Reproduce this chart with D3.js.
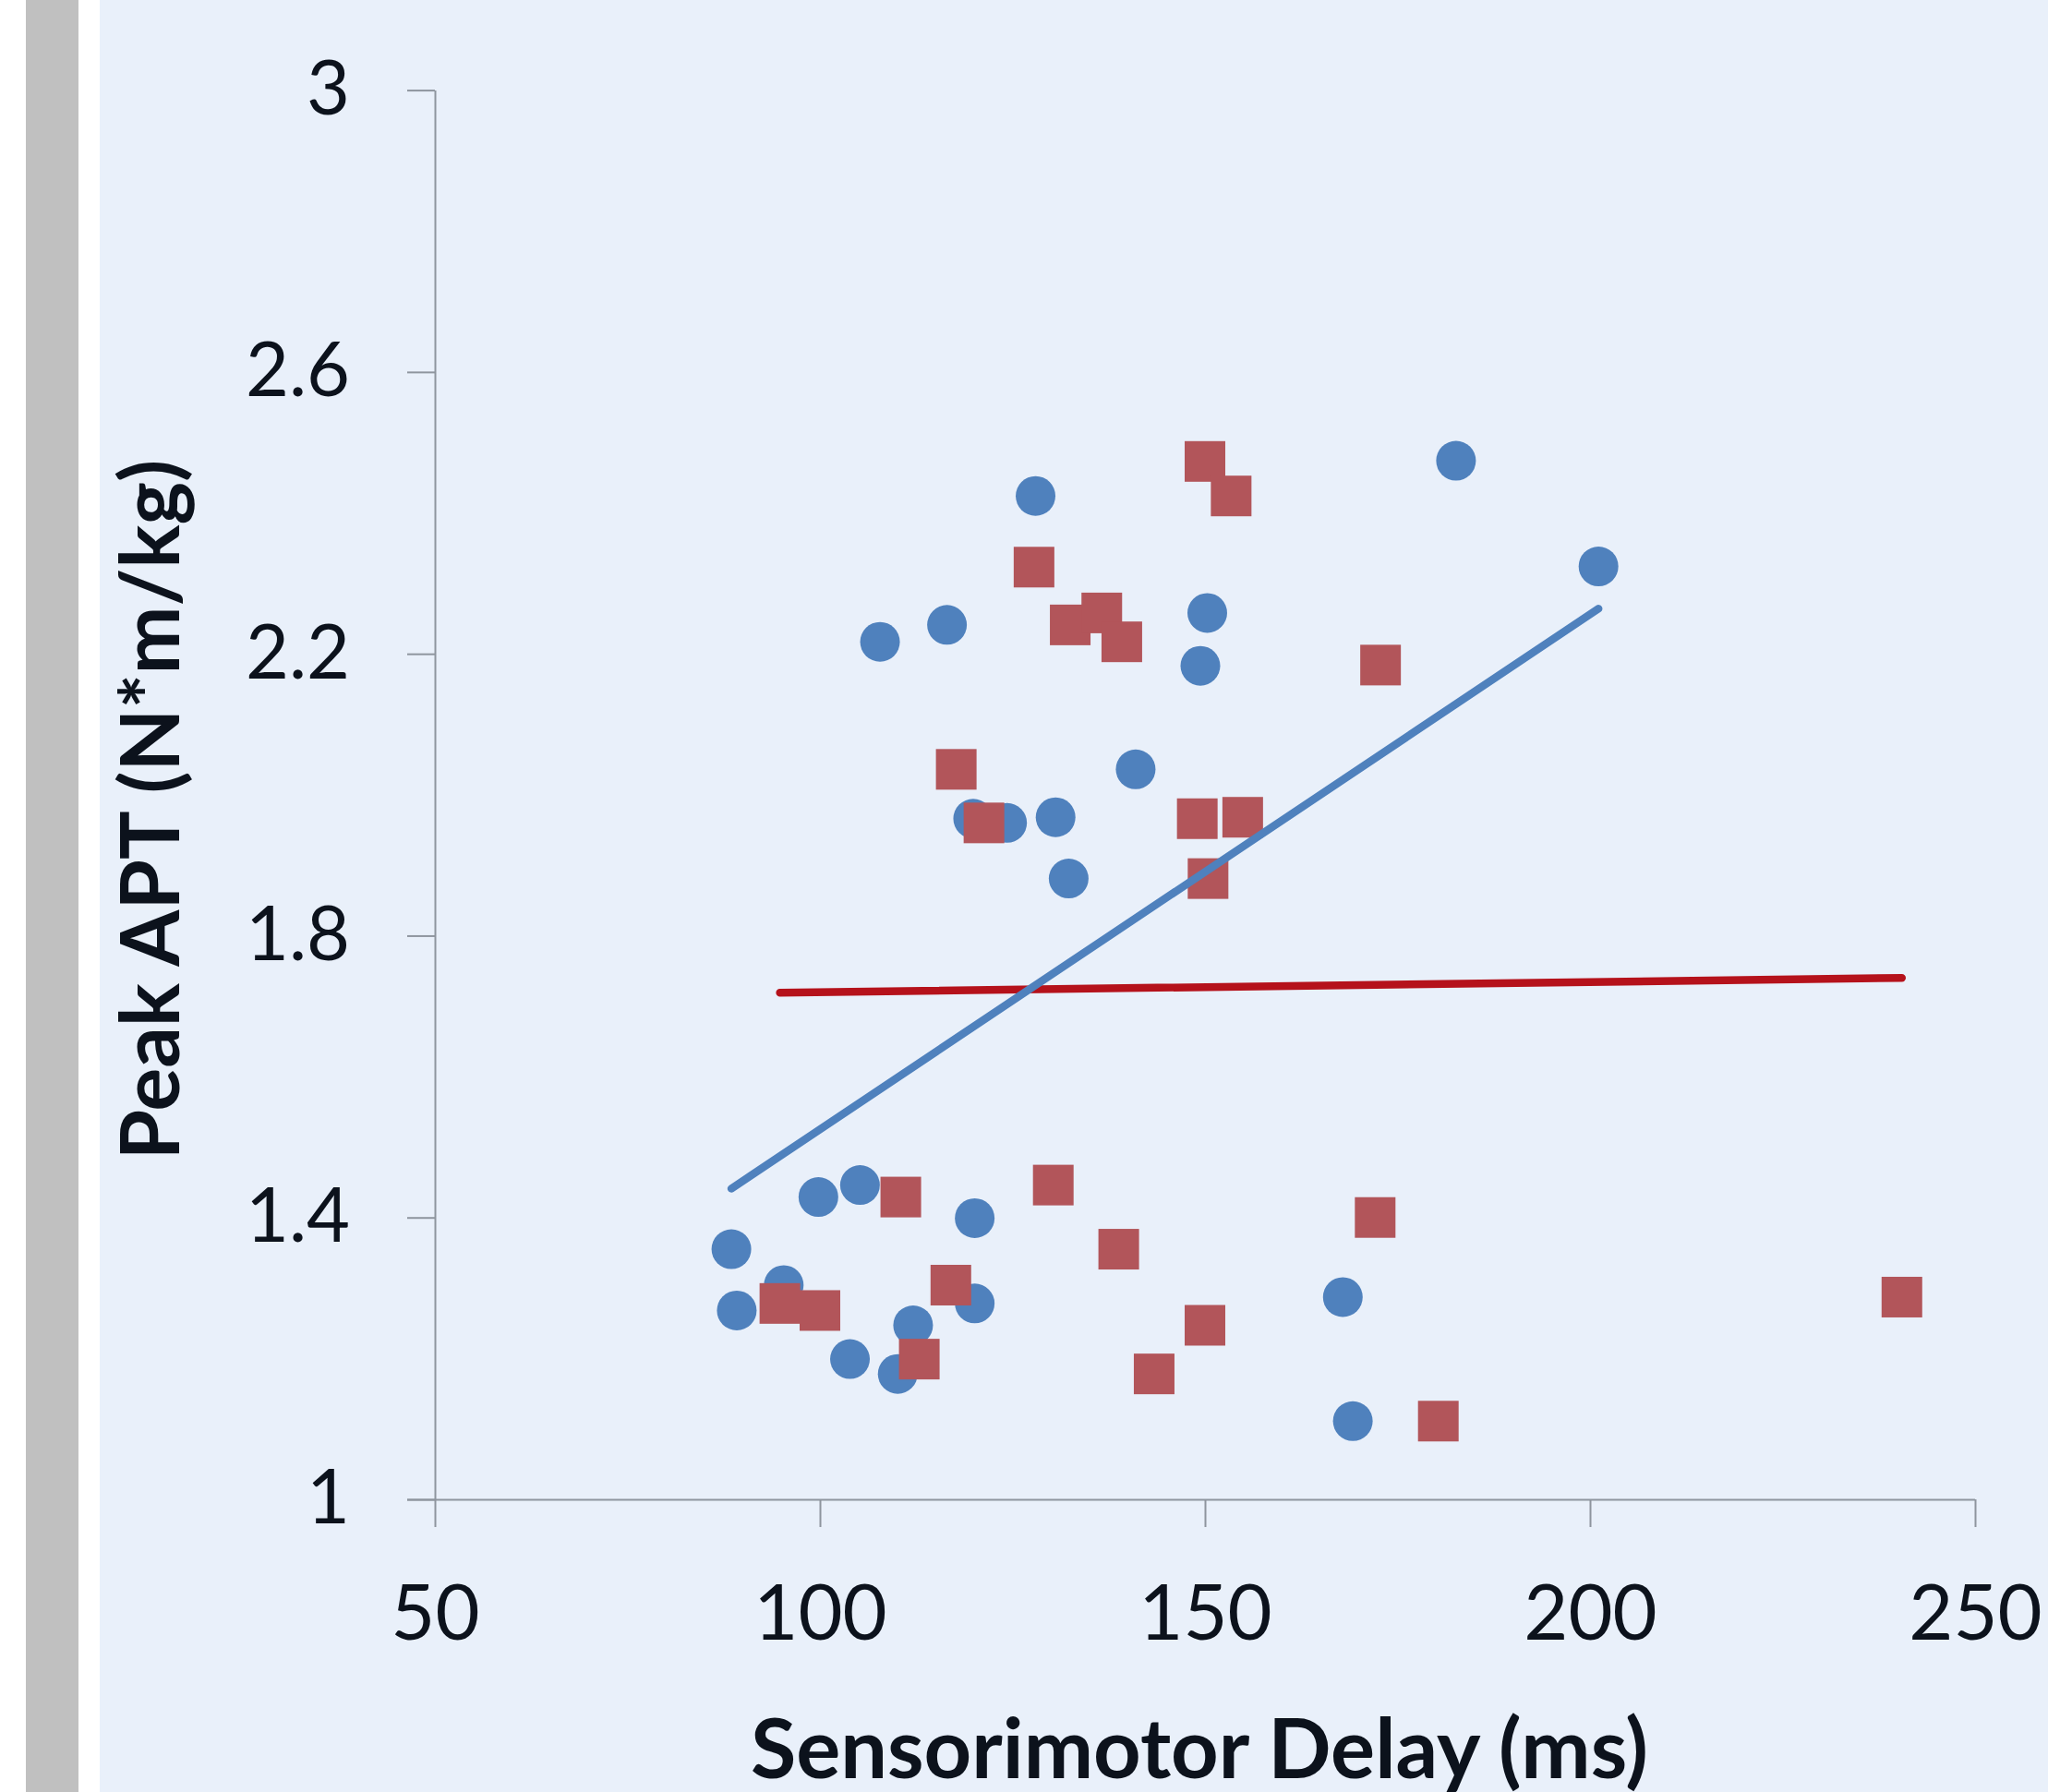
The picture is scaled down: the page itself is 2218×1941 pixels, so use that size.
<!DOCTYPE html>
<html>
<head>
<meta charset="utf-8">
<script src="https://cdn.jsdelivr.net/npm/d3@7"></script>
<style>
  html, body { margin: 0; padding: 0; background: #ffffff; }
  svg { display: block; }
</style>
</head>
<body>
<div id="chart"></div>
<script>
// values
const xTicks = [50, 100, 150, 200, 250];
const yTicks = [1, 1.4, 1.8, 2.2, 2.6, 3];

// blue circles
const circleX = [128.0, 150.3, 149.4, 107.8, 116.5, 141.0, 119.9, 124.3, 130.6, 132.3, 182.6, 201.1,
  99.8, 105.2, 120.1, 88.5, 95.3, 89.2, 120.1, 112.1, 103.9, 110.1, 167.9, 169.2];
const circleY = [2.424, 2.258, 2.183, 2.217, 2.241, 2.036, 1.966, 1.960, 1.968, 1.881, 2.474, 2.324,
  1.429, 1.446, 1.399, 1.355, 1.304, 1.268, 1.278, 1.247, 1.199, 1.178, 1.287, 1.111];

// red squares
const squareX = [150.0, 153.4, 127.8, 132.5, 136.6, 139.2, 117.7, 121.3, 149.0, 154.9, 150.4, 172.8,
  110.5, 130.3, 138.8, 94.8, 100.0, 117.0, 112.9, 150.0, 143.4, 172.1, 180.3, 240.5];
const squareY = [2.473, 2.424, 2.323, 2.241, 2.258, 2.217, 2.036, 1.960, 1.966, 1.968, 1.881, 2.184,
  1.429, 1.446, 1.355, 1.278, 1.268, 1.304, 1.199, 1.247, 1.178, 1.400, 1.111, 1.287];

// linear trendlines (end points)
const blueTrendX = [88.5, 201.1];
const blueTrendY = [1.441, 2.264];
const redTrendX = [94.8, 240.5];
const redTrendY = [1.719, 1.740];

const W = 2218, H = 1941;
const plot = { left: 471, right: 2139, top: 97.6, bottom: 1624 };
const font = "Lato, 'Open Sans', sans-serif";
const ink = "#0c121c";
const axisColor = "#8e959e";

const svg = d3.select("#chart").append("svg")
  .attr("width", W)
  .attr("height", H);

// page pieces: grey bar, white gap, light blue panel
svg.append("rect").attr("x", 0).attr("y", 0).attr("width", W).attr("height", H).attr("fill", "#ffffff");
svg.append("rect").attr("x", 28).attr("y", 0).attr("width", 57).attr("height", H).attr("fill", "#c0c0c0");
svg.append("rect").attr("x", 108).attr("y", 0).attr("width", W - 108).attr("height", H).attr("fill", "#e9f0fa");

const x = d3.scaleLinear().domain([50, 250]).range([plot.left, plot.right]);
const y = d3.scaleLinear().domain([1, 3]).range([plot.bottom, plot.top]);

// x axis
svg.append("g")
  .attr("transform", `translate(0,${plot.bottom})`)
  .call(d3.axisBottom(x).tickValues(xTicks).tickSize(30).tickSizeOuter(0).tickPadding(63))
  .call((g) => g.select(".domain").attr("stroke", axisColor).attr("stroke-width", 2)
    .attr("d", `M${plot.left - 30},0.5H${plot.right}`))
  .call((g) => g.selectAll(".tick line").attr("stroke", axisColor).attr("stroke-width", 2))
  .call((g) => g.selectAll(".tick text")
    .attr("fill", ink).style("font-family", font).style("font-size", "83px"));

// y axis
svg.append("g")
  .attr("transform", `translate(${plot.left},0)`)
  .call(d3.axisLeft(y).tickValues(yTicks).tickSize(30).tickSizeOuter(0).tickPadding(62)
    .tickFormat(d3.format("~g")))
  .call((g) => g.select(".domain").attr("stroke", axisColor).attr("stroke-width", 2))
  .call((g) => g.selectAll(".tick line").attr("stroke", axisColor).attr("stroke-width", 2))
  .call((g) => g.selectAll(".tick text")
    .attr("fill", ink).style("font-family", font).style("font-size", "81px"));

// markers
const circles = d3.zip(circleX, circleY);
const squares = d3.zip(squareX, squareY);
const sq = 44;

svg.append("g")
  .selectAll("circle")
  .data(circles)
  .join("circle")
  .attr("cx", (d) => x(d[0]))
  .attr("cy", (d) => y(d[1]))
  .attr("r", 21.5)
  .attr("fill", "#4f81bd");

svg.append("g")
  .selectAll("rect")
  .data(squares)
  .join("rect")
  .attr("x", (d) => x(d[0]) - sq / 2)
  .attr("y", (d) => y(d[1]) - sq / 2)
  .attr("width", sq)
  .attr("height", sq)
  .attr("fill", "#b2555a");

// trendlines
const line = d3.line()
  .x((d) => x(d[0]))
  .y((d) => y(d[1]));

svg.append("path")
  .attr("d", line(d3.zip(redTrendX, redTrendY)))
  .attr("fill", "none")
  .attr("stroke", "#b5121b")
  .attr("stroke-width", 8.5)
  .attr("stroke-linecap", "round");

svg.append("path")
  .attr("d", line(d3.zip(blueTrendX, blueTrendY)))
  .attr("fill", "none")
  .attr("stroke", "#4f81bd")
  .attr("stroke-width", 8.5)
  .attr("stroke-linecap", "round");

// axis titles
svg.append("text")
  .attr("x", 1299)
  .attr("y", 1926)
  .attr("text-anchor", "middle")
  .attr("fill", ink)
  .style("font-family", font)
  .style("font-weight", "bold")
  .style("font-size", "90px")
  .text("Sensorimotor Delay (ms)");

svg.append("text")
  .attr("transform", "translate(194,877) rotate(-90)")
  .attr("text-anchor", "middle")
  .attr("fill", ink)
  .style("font-family", font)
  .style("font-weight", "bold")
  .style("font-size", "88px")
  .text("Peak APT (N*m/kg)");
</script>
</body>
</html>
